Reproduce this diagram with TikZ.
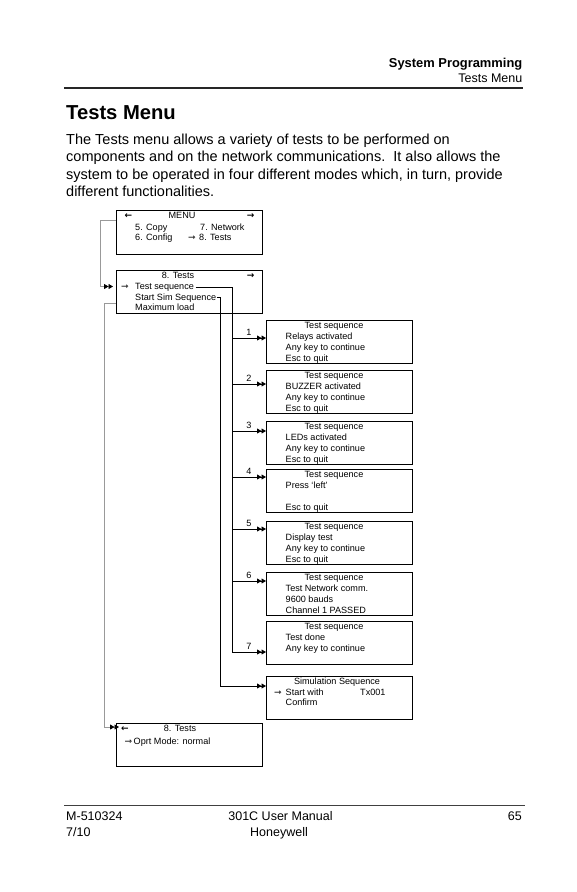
\documentclass[tikz,border=0pt]{standalone}
\usepackage{fontspec}
\setmainfont{Liberation Sans}
\newfontfamily\symfont{DejaVu Sans}
\usetikzlibrary{arrows.meta}
\begin{document}
\begin{tikzpicture}[x=1pt,y=-1pt,
 box/.style={draw=black,line width=0.8pt,anchor=north west,inner sep=0pt,minimum width=146pt,minimum height=43pt},
 txt/.style={inner sep=0pt,anchor=base west,font=\fontsize{9.1}{10}\selectfont},
 ctxt/.style={txt,anchor=base},
 sym/.style={inner sep=0pt,anchor=base west,font=\symfont\bfseries\fontsize{9}{10}\selectfont},
 symr/.style={sym,anchor=base east},
 conn/.style={line width=0.8pt,black},
 gconn/.style={line width=0.9pt,black!40},
 dbl/.style={-{Triangle[length=4.5pt,width=5pt,color=black]Triangle[length=4.5pt,width=5pt,color=black]}},
 num/.style={inner sep=0pt,anchor=base,font=\fontsize{9.1}{10}\selectfont},
 para/.style={inner sep=0pt,anchor=base west,font=\fontsize{14.5}{17}\selectfont},
 foot/.style={inner sep=0pt,font=\fontsize{12.5}{15}\selectfont},
]
\useasboundingbox[fill=white] (0,0) rectangle (577,892);

% header
\node[anchor=base east,inner sep=0pt,font=\bfseries\fontsize{12.9}{15}\selectfont] (h1) at (522.5,67) {System Programming};
\node[anchor=base east,inner sep=0pt,font=\fontsize{12.5}{15}\selectfont] (h2) at (522.5,82) {Tests Menu};
\draw[line width=2.2pt,black!85] (64,88) -- (523,88);

% title and paragraph
\node[anchor=base west,inner sep=0pt,font=\bfseries\fontsize{20.2}{24}\selectfont] (title) at (66,119) {Tests Menu};
\node[para] (p1) at (66,144) {The Tests menu allows a variety of tests to be performed on};
\node[para] (p2) at (66,161.5) {components and on the network communications.\ \ It also allows the};
\node[para] (p3) at (66,179) {system to be operated in four different modes which, in turn, provide};
\node[para] (p4) at (66,196.5) {different functionalities.};

% boxes
\node[box,minimum height=44pt] (menu) at (116,210) {};
\node[box] (tests) at (116,270) {};
\node[box] (b1) at (266,320) {};
\node[box] (b2) at (266,370) {};
\node[box] (b3) at (266,421) {};
\node[box] (b4) at (266,469) {};
\node[box] (b5) at (266,521) {};
\node[box] (b6) at (266,572) {};
\node[box] (b7) at (266,621) {};
\node[box] (sim) at (266,676) {};
\node[box] (oprt) at (116,723) {};

% MENU box text
\node[sym] (ml) at (124.5,218.2) {←};
\node[ctxt] (mt) at (182,218.2) {MENU};
\node[symr] (mr) at (254.5,218.2) {→};
\node[txt] (m5) at (135,230.2) {5. Copy};
\node[txt] (m7) at (200,230.2) {7. Network};
\node[txt] (m6) at (135,240.7) {6. Config};
\node[sym] (ma) at (188,240.7) {⇾};
\node[txt] (m8) at (199,240.7) {8. Tests};

% 8. Tests box text
\node[ctxt] (tt) at (178,278.2) {8. Tests};
\node[symr] (tr) at (254.5,278.2) {→};
\node[sym] (ta) at (121,289.4) {⇾};
\node[txt,text height=6.6pt,text depth=1.9pt] (ts) at (135,289.4) {Test sequence};
\node[txt,text height=6.6pt,text depth=1.9pt] (tsim) at (135,300.2) {Start Sim Sequence};
\node[txt] (tm) at (135,310.2) {Maximum load};

% right boxes text
\node[ctxt] (t1) at (334,328.2) {Test sequence};
\node[txt] (l1a) at (285.5,339.2) {Relays activated};
\node[txt] (l1b) at (285.5,350.2) {Any key to continue};
\node[txt] (l1c) at (285.5,361.2) {Esc to quit};

\node[ctxt] (t2) at (334,378.2) {Test sequence};
\node[txt] (l2a) at (285.5,389.2) {BUZZER activated};
\node[txt] (l2b) at (285.5,400.2) {Any key to continue};
\node[txt] (l2c) at (285.5,411.2) {Esc to quit};

\node[ctxt] (t3) at (334,429.2) {Test sequence};
\node[txt] (l3a) at (285.5,440.2) {LEDs activated};
\node[txt] (l3b) at (285.5,451.2) {Any key to continue};
\node[txt] (l3c) at (285.5,462.2) {Esc to quit};

\node[ctxt] (t4) at (334,477.2) {Test sequence};
\node[txt] (l4a) at (285.5,488.9) {Press `left'};
\node[txt] (l4c) at (285.5,510.2) {Esc to quit};

\node[ctxt] (t5) at (334,529.2) {Test sequence};
\node[txt] (l5a) at (285.5,540.2) {Display test};
\node[txt] (l5b) at (285.5,551.2) {Any key to continue};
\node[txt] (l5c) at (285.5,562.2) {Esc to quit};

\node[ctxt] (t6) at (334,580.7) {Test sequence};
\node[txt] (l6a) at (285.5,591.7) {Test Network comm.};
\node[txt] (l6b) at (285.5,602.7) {9600 bauds};
\node[txt] (l6c) at (285.5,613.2) {Channel 1 PASSED};

\node[ctxt] (t7) at (334,629.2) {Test sequence};
\node[txt] (l7a) at (285.5,640.2) {Test done};
\node[txt] (l7b) at (285.5,651.2) {Any key to continue};

\node[ctxt] (ts8) at (337,684.2) {Simulation Sequence};
\node[sym] (sa) at (274,695.2) {⇾};
\node[txt] (s1) at (285.5,695.2) {Start with};
\node[txt] (s2) at (360,695.2) {Tx001};
\node[txt] (s3) at (285.5,705.7) {Confirm};

% bottom box text
\node[ctxt] (ot) at (180,731) {8. Tests};
\node[sym] (ol) at (121,731) {←};
\node[sym] (oa) at (124.5,744.2) {⇾};
\node[txt] (om) at (133.5,744.2) {Oprt Mode: normal};

% junction coordinates
\coordinate (j1) at (232,338);
\coordinate (j2) at (232,384);
\coordinate (j3) at (232,431);
\coordinate (j4) at (232,477);
\coordinate (j5) at (232,529);
\coordinate (j6) at (232,581);
\coordinate (j7) at (232,652);
\coordinate (js) at (220,686);
\coordinate (g1a) at (100,220);
\coordinate (g1b) at (100,286.5);
\coordinate (g2a) at (104,303);
\coordinate (g2b) at (104,727);

% connectors
\draw[conn] ([xshift=1.5pt]ts.east) -| (j7);
\foreach \j/\b in {j1/b1,j2/b2,j3/b3,j4/b4,j5/b5,j6/b6,j7/b7}{
  \draw[conn,dbl] (\j) -- (\j -| \b.west);
}
\draw[conn] ([xshift=0.5pt]tsim.east) -| (js);
\draw[conn,dbl] (js) -- (js -| sim.west);

\draw[gconn] (menu.west |- g1a) -- (g1a) -- (g1b);
\draw[gconn,dbl] (g1b) -- ([xshift=-3pt]g1b -| tests.west);
\draw[gconn] (tests.west |- g2a) -- (g2a) -- (g2b);
\draw[gconn,dbl] (g2b) -- ([xshift=3pt]g2b -| oprt.west);

% number labels
\node[num] (n1) at (249,335) {1};
\node[num] (n2) at (249,381) {2};
\node[num] (n3) at (249,428) {3};
\node[num] (n4) at (249,474) {4};
\node[num] (n5) at (249,526) {5};
\node[num] (n6) at (249,578) {6};
\node[num] (n7) at (249,649) {7};

% footer
\draw[line width=0.9pt,black!75] (64,805) -- (525,805);
\node[foot,anchor=base west] (f1) at (66,820) {M-510324};
\node[foot,anchor=base west] (f2) at (66,836) {7/10};
\node[foot,anchor=base] (f3) at (280.5,820) {301C User Manual};
\node[foot,anchor=base] (f4) at (279,836) {Honeywell};
\node[foot,anchor=base east] (f5) at (522,820) {65};
\end{tikzpicture}
\end{document}
